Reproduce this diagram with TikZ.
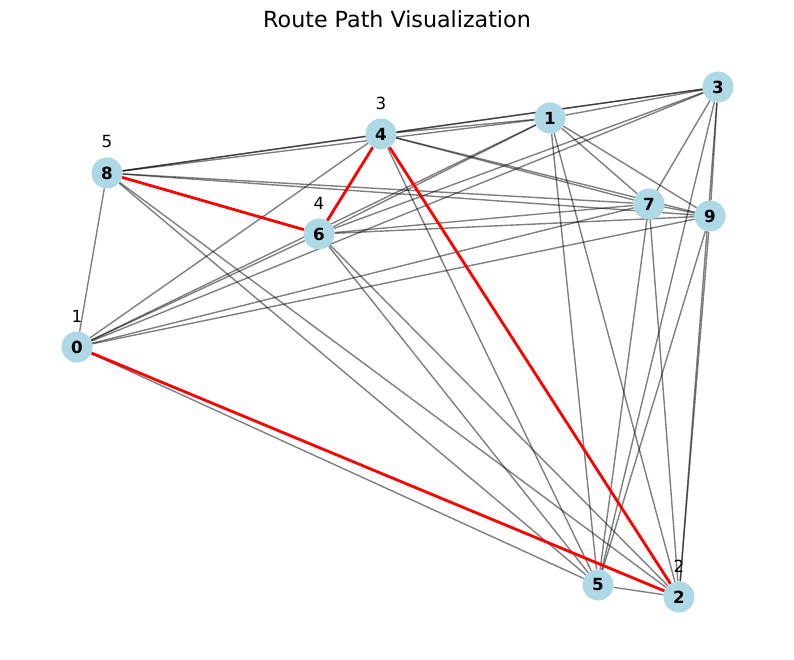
\documentclass[tikz,border=0pt]{standalone}
\usepackage{fontspec}
\setmainfont{DejaVu Sans}
\usetikzlibrary{backgrounds}
\definecolor{lightblue}{HTML}{ADD8E6}
\tikzset{
	city/.style={circle,fill=lightblue,minimum size=31pt,inner sep=0pt,font=\fontsize{16.7}{18}\selectfont\bfseries},
	link/.style={draw=black,opacity=.5,line width=1.4pt},
	route/.style={draw=red,line width=2.8pt},
	visit/.style={font=\fontsize{16.7}{18}\selectfont},
}
\begin{document}
\begin{tikzpicture}[x=1pt,y=-1pt]
		\useasboundingbox (0,0) rectangle (794,660);
		\node[font=\fontsize{22.2}{26}\selectfont] (title) at (397,19){Route Path Visualization};

		% cities
		\node[city] (n0) at (77,347){0};
		\node[city] (n1) at (550,118){1};
		\node[city] (n2) at (679,597){2};
		\node[city] (n3) at (718,87){3};
		\node[city] (n4) at (381,134){4};
		\node[city] (n5) at (598,585){5};
		\node[city] (n6) at (319,234){6};
		\node[city] (n7) at (649,204){7};
		\node[city] (n8) at (107,173){8};
		\node[city] (n9) at (710,216){9};

		% visiting order
		\node[visit] (v0) at (77,316){1};
		\node[visit] (v2) at (679,566){2};
		\node[visit] (v4) at (381,103){3};
		\node[visit] (v6) at (319,203){4};
		\node[visit] (v8) at (107,142){5};

		\begin{pgfonlayer}{background}
		\fill[white] (0,0) rectangle (794,660);
		\draw[link] (n0)--(n1); \draw[link] (n0)--(n3); \draw[link] (n0)--(n4); \draw[link] (n0)--(n5);
		\draw[link] (n0)--(n6); \draw[link] (n0)--(n7); \draw[link] (n0)--(n8); \draw[link] (n0)--(n9);
		\draw[link] (n1)--(n2); \draw[link] (n1)--(n3); \draw[link] (n1)--(n4); \draw[link] (n1)--(n5);
		\draw[link] (n1)--(n6); \draw[link] (n1)--(n7); \draw[link] (n1)--(n8); \draw[link] (n1)--(n9);
		\draw[link] (n2)--(n3); \draw[link] (n2)--(n5); \draw[link] (n2)--(n6);
		\draw[link] (n2)--(n7); \draw[link] (n2)--(n8); \draw[link] (n2)--(n9);
		\draw[link] (n3)--(n4); \draw[link] (n3)--(n5); \draw[link] (n3)--(n6);
		\draw[link] (n3)--(n7); \draw[link] (n3)--(n8); \draw[link] (n3)--(n9);
		\draw[link] (n4)--(n5); \draw[link] (n4)--(n7); \draw[link] (n4)--(n8); \draw[link] (n4)--(n9);
		\draw[link] (n5)--(n6); \draw[link] (n5)--(n7); \draw[link] (n5)--(n8); \draw[link] (n5)--(n9);
		\draw[link] (n6)--(n7); \draw[link] (n6)--(n9);
		\draw[link] (n7)--(n8); \draw[link] (n7)--(n9);
		\draw[link] (n8)--(n9);

		% route
		\draw[route] (n0)--(n2);
		\draw[route] (n2)--(n4);
		\draw[route] (n4)--(n6);
		\draw[route] (n6)--(n8);
		\end{pgfonlayer}
	\end{tikzpicture}
\end{document}
